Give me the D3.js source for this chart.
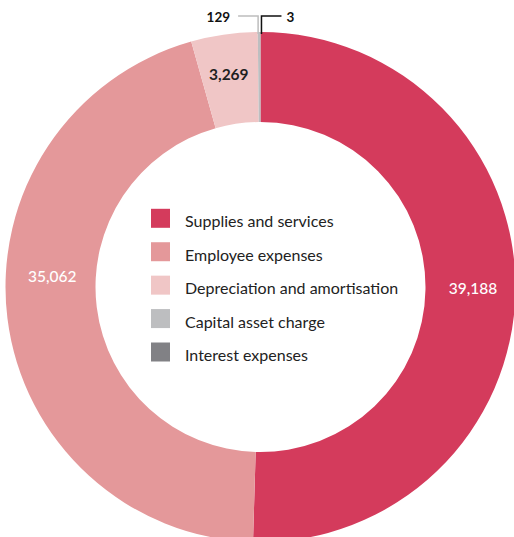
<!DOCTYPE html>
<html>
<head>
<meta charset="utf-8">
<script src="https://cdn.jsdelivr.net/npm/d3@7/dist/d3.min.js"></script>
<style>
  html, body { margin: 0; padding: 0; background: #fff; }
  svg { display: block; font-family: Lato, "Open Sans", sans-serif; }
</style>
</head>
<body>
<svg id="chart" width="514" height="537"></svg>
<script>
// Expense categories, in drawing order (clockwise from 12 o'clock)
const categories = [
  "Supplies and services",
  "Employee expenses",
  "Depreciation and amortisation",
  "Capital asset charge",
  "Interest expenses"
];
const values = [39188, 35062, 3269, 129, 3];
const valueLabels = ["39,188", "35,062", "3,269", "129", "3"];
const colors = ["#D43B5C", "#E4989A", "#F0C6C6", "#BDBEC0", "#818185"];

const width = 514, height = 537;
const cx = 260.5, cy = 287;
const outerR = 255, innerR = 165;

const svg = d3.select("#chart");
const g = svg.append("g").attr("transform", `translate(${cx},${cy})`);

const data = categories.map((c, i) => ({ name: c, value: values[i], label: valueLabels[i], color: colors[i] }));

const pie = d3.pie().value(d => d.value).sort(null);
const arc = d3.arc().innerRadius(innerR).outerRadius(outerR);
const arcs = pie(data);

g.selectAll("path.slice")
  .data(arcs)
  .join("path")
  .attr("class", "slice")
  .attr("d", arc)
  .attr("fill", d => d.data.color);

// In-ring labels for the three larger slices; angle nudges keep the two big labels near the horizontal
const labelR = [212.5, 208.5, 215];
const angleNudge = [-0.009, 0.175, -0.005];
const inRing = [
  { fill: "#fff", weight: 500 },
  { fill: "#fff", weight: 500 },
  { fill: "#1f1f1f", weight: 700 }
];
arcs.slice(0, 3).forEach((d, i) => {
  const a = (d.startAngle + d.endAngle) / 2 + angleNudge[i];
  g.append("text")
    .attr("x", labelR[i] * Math.sin(a))
    .attr("y", -labelR[i] * Math.cos(a))
    .attr("text-anchor", "middle")
    .attr("dominant-baseline", "central")
    .attr("font-size", 15.5)
    .attr("font-weight", inRing[i].weight)
    .attr("fill", inRing[i].fill)
    .text(d.data.label);
});

// Leader lines for the two thin slices at the top
const leaderY = 16 - cy;
const leaders = [
  { idx: 3, dx: -1, stroke: "#bdbdbd", side: -1, len: 20, gap: 8 },
  { idx: 4, dx: 1, stroke: "#111", side: 1, len: 20, gap: 5 }
];
leaders.forEach(l => {
  const d = arcs[l.idx];
  const a = (d.startAngle + d.endAngle) / 2;
  const x0 = outerR * Math.sin(a) + l.dx;
  const y0 = -outerR * Math.cos(a) + 2;
  const x1 = x0 + l.side * l.len;
  g.append("path")
    .attr("d", `M${x0},${y0}V${leaderY}H${x1}`)
    .attr("fill", "none")
    .attr("stroke", l.stroke)
    .attr("stroke-width", 1.5);
  g.append("text")
    .attr("x", x1 + l.side * l.gap)
    .attr("y", leaderY + 1)
    .attr("text-anchor", l.side < 0 ? "end" : "start")
    .attr("dominant-baseline", "central")
    .attr("font-size", 13.5)
    .attr("font-weight", 700)
    .attr("fill", "#111")
    .text(d.data.label);
});

// Legend inside the ring
const legendY = d3.scalePoint().domain(categories).range([218.3, 352]);
const legend = svg.append("g");
const rows = legend.selectAll("g").data(data).join("g")
  .attr("transform", d => `translate(151,${legendY(d.name)})`);
rows.append("rect")
  .attr("x", 0).attr("y", -9.5)
  .attr("width", 19).attr("height", 19)
  .attr("fill", d => d.color);
rows.append("text")
  .attr("x", 34)
  .attr("y", 9)
  .attr("font-size", 16)
  .attr("fill", "#222")
  .text(d => d.name);
</script>
</body>
</html>
